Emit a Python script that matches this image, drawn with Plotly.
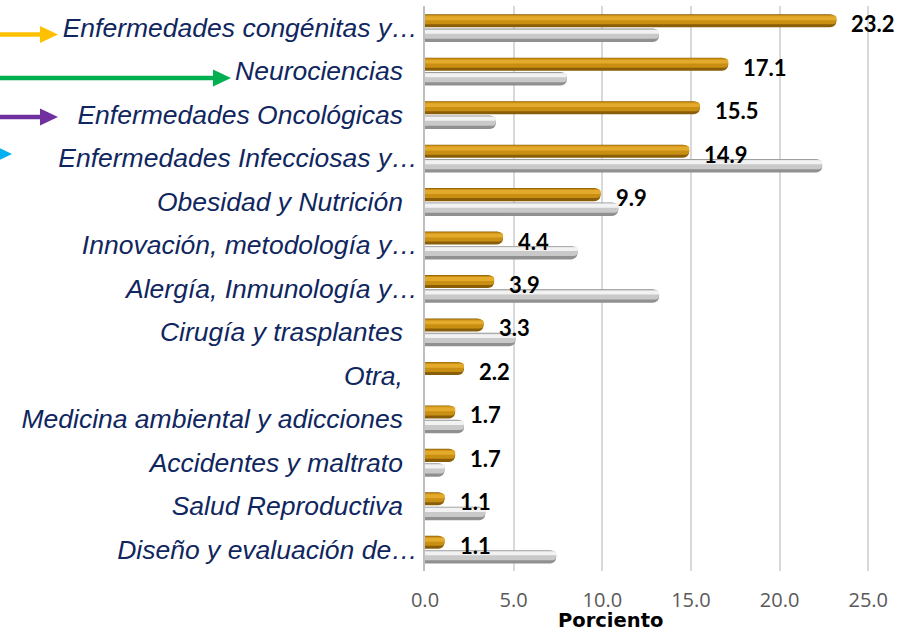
import plotly.graph_objects as go

categories = [
    "Enfermedades congénitas y…",
    "Neurociencias",
    "Enfermedades Oncológicas",
    "Enfermedades Infecciosas y…",
    "Obesidad y Nutrición",
    "Innovación, metodología y…",
    "Alergía, Inmunología y…",
    "Cirugía y trasplantes",
    "Otra,",
    "Medicina ambiental y adicciones",
    "Accidentes y maltrato",
    "Salud Reproductiva",
    "Diseño y evaluación de…",
]
gold_values = [23.2, 17.1, 15.5, 14.9, 9.9, 4.4, 3.9, 3.3, 2.2, 1.7, 1.7, 1.1, 1.1]
gray_values = [13.2, 8.0, 4.0, 22.4, 10.9, 8.6, 13.2, 5.1, 0.0, 2.2, 1.1, 3.4, 7.4]
x_tick_values = [0, 5, 10, 15, 20, 25]

# labels that are not cut off keep a trailing gap, like the original
tick_labels = [c if c.endswith("…") else c + "\u00a0\u00a0" for c in categories]

# plot area in pixels (904 x 632 page)
L, R, T, B = 425, 18, 6, 61
W, H = 904 - L - R, 632 - T - B


def px_x(px):
    return (px - L) / W


def px_y(py):
    return (632 - B - py) / H


fig = go.Figure()

# each series is drawn as stacked layers to fake the cylinder shading
gold_layers = [(-0.31, 0.30, "#8A5E08"), (-0.295, 0.215, "#C98F12"), (-0.265, 0.09, "#E3AA2C")]
gray_layers = [(0.02, 0.31, "#909090"), (0.035, 0.22, "#C9C9C9"), (0.05, 0.09, "#F2F2F2")]

for offset, width, color in gold_layers:
    fig.add_trace(go.Bar(
        x=gold_values, y=categories, orientation="h",
        offset=offset, width=width, marker=dict(color=color, cornerradius="50%", line_width=0),
        showlegend=False, hoverinfo="skip",
    ))
for offset, width, color in gray_layers:
    fig.add_trace(go.Bar(
        x=gray_values, y=categories, orientation="h",
        offset=offset, width=width, marker=dict(color=color, cornerradius="50%", line_width=0),
        showlegend=False, hoverinfo="skip",
    ))

for cat, v in zip(categories, gold_values):
    fig.add_annotation(
        x=v, y=cat, text=f"{v:.1f}", showarrow=False,
        xanchor="left", yanchor="middle", xshift=13, yshift=4,
        font=dict(family="Lato", size=22, color="#000000", weight="bold"),
    )

fig.add_annotation(
    x=px_x(610), y=px_y(620), xref="paper", yref="paper", text="<b>Porciento</b>",
    showarrow=False, xanchor="center", yanchor="middle",
    font=dict(family="DejaVu Sans", size=19.5, color="#000000"),
)

# coloured arrows on the left
arrows = [
    ("#FFC000", 34.5, 58),
    ("#00B050", 78, 231),
    ("#7030A0", 117, 58),
    ("#00B0F0", 154, 12),
]
for color, ay, tip in arrows:
    base = tip - 18
    fig.add_shape(type="line", xref="paper", yref="paper",
                  x0=px_x(-10), x1=px_x(base + 2), y0=px_y(ay), y1=px_y(ay),
                  line=dict(color=color, width=4.5))
    path = (f"M {px_x(base)} {px_y(ay - 8.5)} L {px_x(tip)} {px_y(ay)} "
            f"L {px_x(base)} {px_y(ay + 8.5)} Z")
    fig.add_shape(type="path", xref="paper", yref="paper", path=path,
                  fillcolor=color, line=dict(color=color, width=0))

fig.update_layout(
    width=904, height=632,
    margin=dict(l=L, r=R, t=T, b=B),
    paper_bgcolor="white", plot_bgcolor="white",
    barmode="overlay",
    showlegend=False,
    xaxis=dict(
        range=[0, 26], tickvals=x_tick_values, tickformat=".1f",
        showgrid=True, gridcolor="#D9D9D9", gridwidth=2, zeroline=False,
        ticks="outside", ticklen=11, tickcolor="rgba(0,0,0,0)",
        tickfont=dict(family="Open Sans", size=20, color="#595959"),
        showline=False,
    ),
    yaxis=dict(
        type="category", categoryorder="array", categoryarray=categories,
        tickmode="array", tickvals=categories, ticktext=tick_labels,
        range=[12.5, -0.5], showgrid=False, zeroline=False,
        showline=True, linecolor="#BFBFBF", linewidth=2,
        ticks="", ticklabelstandoff=0,
        tickfont=dict(family="Liberation Sans", size=26.5, color="#10265E", style="italic"),
    ),
)

fig.write_html("out.html", config={"displayModeBar": False},
               post_script="document.body.style.margin = '0';")
